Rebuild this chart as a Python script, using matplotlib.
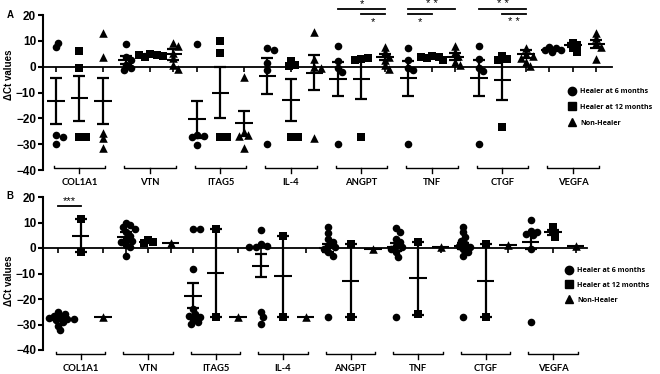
import numpy as np
import matplotlib.pyplot as plt
from matplotlib.lines import Line2D

# genes and groups
genes = ['COL1A1', 'VTN', 'ITAG5', 'IL-4', 'ANGPT', 'TNF', 'CTGF', 'VEGFA']
group_names = ['Healer at 6 months', 'Healer at 12 months', 'Non-Healer']
group_markers = ['o', 's', '^']

# panel A - delta Ct per gene
a_h6 = [[7.5, 9.3, -26.5, -27.1, -30.0],
        [8.6, 3.6, 2.6, 0.6, -0.6, -1.3],
        [8.9, -26.5, -27.0, -27.3, -30.3],
        [7.1, 6.5, 1.3, -1.3, -30.0],
        [8.1, 2.2, -0.6, -1.9, -30.0],
        [7.4, 2.6, -0.4, -1.3, -30.0],
        [8.0, 2.8, -0.6, -1.5, -30.0],
        [7.7, 7.1, 6.5, 6.3, 5.8]]
a_h6_mean = [-13.3, 2.6, -20.3, -3.5, -4.8, -4.5, -4.5, 6.6]
a_h6_err = [8.9, 1.6, 7.2, 6.9, 6.6, 6.7, 7.0, 0.4]

a_h12 = [[6.2, -0.4, -27.1, -27.1],
         [4.9, 4.5, 3.9, 4.5, 4.2],
         [9.9, 5.2, -27.1, -27.1],
         [2.2, 0.6, 0.3, -27.1, -27.1],
         [3.0, 3.2, 2.6, -27.1],
         [4.1, 3.6, 3.2, 2.6, 3.8],
         [4.1, 2.8, 2.6, -23.5],
         [9.3, 8.4, 7.4, 5.8]]
a_h12_mean = [-12.3, 4.5, -10.0, -12.9, -4.8, 3.6, -5.2, 8.4]
a_h12_err = [8.7, 0.4, 10.0, 8.2, 7.6, 0.4, 7.7, 0.8]

a_nh = [[13.2, 3.6, -25.5, -27.5, -31.4],
        [9.3, 8.0, 5.2, 3.2, 0.6, -0.9],
        [-3.9, -25.4, -26.5, -27.0, -31.6],
        [13.5, 2.8, 0.0, -0.6, -27.5],
        [7.7, 5.5, 3.9, 2.6, 0.6, -1.0],
        [8.0, 5.8, 4.1, 1.9, 0.6],
        [7.1, 4.8, 4.1, 3.2, 1.9, 0.3],
        [12.9, 11.0, 9.0, 7.7, 2.8]]
a_nh_mean = [-13.3, 4.8, -21.9, -2.3, 3.6, 3.9, 4.8, 8.7]
a_nh_err = [9.0, 2.2, 4.9, 6.9, 1.2, 1.4, 1.5, 1.6]

# panel B
b_h6 = [[-25.2, -25.8, -26.5, -27.1, -27.8, -28.4, -29.1, -30.4, -32.1, -27.5, -28.0],
        [10.0, 9.0, 8.1, 7.4, 6.1, 4.8, 3.5, 2.9, 2.2, 1.2, 0.3, -3.0],
        [7.4, 7.4, -8.2, -23.9, -25.8, -26.5, -27.1, -27.8, -29.1, -29.7],
        [7.0, 1.6, 0.9, 0.5, 0.3, -25.2, -27.1, -29.7],
        [8.1, 5.7, 3.5, 2.2, 0.9, 0.3, -0.4, -1.7, -3.0, -27.1],
        [7.7, 6.4, 3.5, 2.2, 0.9, 0.3, -0.4, -1.7, -3.4, -27.1],
        [8.1, 6.1, 4.2, 2.9, 1.6, 0.9, 0.3, -0.4, -1.7, -3.0, -27.1],
        [11.0, 6.8, 6.1, 5.5, 5.1, -0.4, -29.1]]
b_h6_mean = [-27.5, 4.2, -18.7, -6.9, 0.0, 0.3, 0.8, 2.5]
b_h6_err = [0.6, 1.9, 5.0, 4.5, 1.5, 1.5, 1.3, 3.0]

b_h12 = [[11.3, -1.7], [3.1, 2.2, 2.0], [7.4, -27.1], [4.8, -27.1],
         [1.6, -27.1], [2.5, -25.8], [1.6, -27.1], [8.1, 6.1, 4.2]]
b_h12_mean = [4.8, 2.4, -9.8, -11.1, -12.8, -11.9, -12.8, 6.1]
b_h12_err = [6.5, 0.5, 17.3, 16.0, 14.3, 14.2, 14.3, 1.1]

b_nh = [[-27.1], [2.0], [-27.1], [-27.1], [-0.4], [0.5], [1.2], [0.6]]
b_nh_mean = [-27.1, 2.0, -27.1, -27.1, -0.4, 0.5, 1.2, 0.6]
b_nh_err = [0, 0, 0, 0, 0, 0, 0, 0]

# significance: (from position, to position, line level, stars, star level)
a_sig = [(12, 14, 22.3, '*', 24.4), (13, 14, 20.4, '*', 17.2),
         (15, 17, 22.3, '* *', 24.4), (15, 16, 20.4, '*', 17.2),
         (18, 20, 22.3, '* *', 24.4), (19, 20, 20.4, '* *', 17.2)]
b_sig = [(0, 1, 16.3, '***', 18.4)]

W, H = 660, 374
fig = plt.figure(figsize=(W / 100, H / 100), dpi=100)
plt.rcParams['font.family'] = ['Liberation Sans', 'DejaVu Sans']


def swarm(vals, dx, dy):
    placed = []
    offs = []
    cands = [0.0]
    for j in range(1, 30):
        cands += [j * 0.3, -j * 0.3]
    for v in vals:
        for c in cands:
            o = c * dx
            if all(((o - po) / dx) ** 2 + ((v - pv) / dy) ** 2 >= 0.42 for po, pv in placed):
                break
        placed.append((o, v))
        offs.append(o)
    return np.array(offs)


def draw_panel(box, xlim, pts, means, errs, sig, brk, legend_at):
    left, top, right, bottom = box
    ax = fig.add_axes([left / W, 1 - bottom / H, (right - left) / W, (bottom - top) / H])
    ax.set_xlim(*xlim)
    ax.set_ylim(-40, 20)
    ax.set_facecolor('none')
    p0 = ax.transData.transform((0, 0))
    p1 = ax.transData.transform((1, 1))
    dx = 7.5 / (p1[0] - p0[0])
    dy = 7.5 / (p1[1] - p0[1])

    for g in range(len(genes)):
        for k in range(3):
            x = 3 * g + k
            vals = np.array(pts[k][g])
            offs = swarm(vals, dx, dy)
            size = 38 if group_markers[k] == '^' else 30
            ax.scatter(x + offs, vals, marker=group_markers[k], s=size, color='black',
                       linewidths=0, zorder=3, clip_on=False)
            ax.hlines(means[k][g], x - 0.38, x + 0.38, color='black', lw=1.5, zorder=4)
            if errs[k][g] > 0:
                ax.errorbar(x, means[k][g], yerr=errs[k][g], fmt='none', ecolor='black',
                            elinewidth=1.6, capsize=4.3, capthick=1.6, zorder=4)
        # gene bracket under the group
        yb, ye, ym, yl = brk
        x0, x1 = 3 * g - 0.1, 3 * g + 2.1
        ax.plot([x0, x0, x1, x1], [ye, yb, yb, ye], color='black', lw=1.0, clip_on=False)
        ax.plot([3 * g + 1, 3 * g + 1], [yb, ym], color='black', lw=1.0, clip_on=False)
        ax.text(3 * g + 1, yl, genes[g], ha='center', va='center', fontsize=6.8,
                fontweight='bold', family=['Lato', 'DejaVu Sans'])

    for xa, xb, yline, stars, ystar in sig:
        ax.plot([xa, xb], [yline, yline], color='black', lw=1.3, clip_on=False)
        ax.text((xa + xb) / 2, ystar, stars, ha='center', va='center', fontsize=8, clip_on=False)

    ax.spines['top'].set_visible(False)
    ax.spines['right'].set_visible(False)
    ax.spines['bottom'].set_position(('data', 0))
    ax.spines['bottom'].set_linewidth(1.3)
    ax.spines['left'].set_linewidth(1.5)
    ax.set_xticks(range(24))
    ax.tick_params(axis='x', direction='out', length=3.5, width=1.2, labelbottom=False)
    ax.set_yticks([-40, -30, -20, -10, 0, 10, 20])
    ax.tick_params(axis='y', direction='out', length=3.5, width=1.5, labelsize=8.5, pad=1.5)
    for lab in ax.get_yticklabels():
        lab.set_fontweight('bold')

    handles = [Line2D([], [], marker=m, color='black', linestyle='none', markersize=6)
               for m in group_markers]
    ax.legend(handles, group_names, loc='upper left', frameon=False,
              bbox_to_anchor=(legend_at[0] / W, 1 - legend_at[1] / H),
              bbox_transform=fig.transFigure, borderpad=0, borderaxespad=0,
              handlelength=1.0, handletextpad=0.7, labelspacing=legend_at[2],
              prop={'family': ['Open Sans', 'DejaVu Sans'], 'weight': 'bold', 'size': 5.1})
    return ax


draw_panel((43, 15, 612, 170), (-0.553, 23.66), [a_h6, a_h12, a_nh],
           [a_h6_mean, a_h12_mean, a_nh_mean], [a_h6_err, a_h12_err, a_nh_err],
           a_sig, (-39.1, -38.3, -41.0, -44.9), (568, 88, 1.25))
draw_panel((43, 197, 587, 350), (-0.667, 23.51), [b_h6, b_h12, b_nh],
           [b_h6_mean, b_h12_mean, b_nh_mean], [b_h6_err, b_h12_err, b_nh_err],
           b_sig, (-41.6, -40.8, -43.5, -47.3), (565, 267, 1.1))

fig.text(10 / W, 1 - 15 / H, 'A', fontsize=7, fontweight='bold', ha='center', va='center')
fig.text(10 / W, 1 - 196 / H, 'B', fontsize=7, fontweight='bold', ha='center', va='center')
fig.text(9 / W, 1 - 75 / H, '\u0394Ct values', rotation=90, fontsize=7, fontweight='bold',
         ha='center', va='center')
fig.text(9 / W, 1 - 281 / H, '\u0394Ct values', rotation=90, fontsize=7, fontweight='bold',
         ha='center', va='center')

fig.savefig('out.png', dpi=100)
